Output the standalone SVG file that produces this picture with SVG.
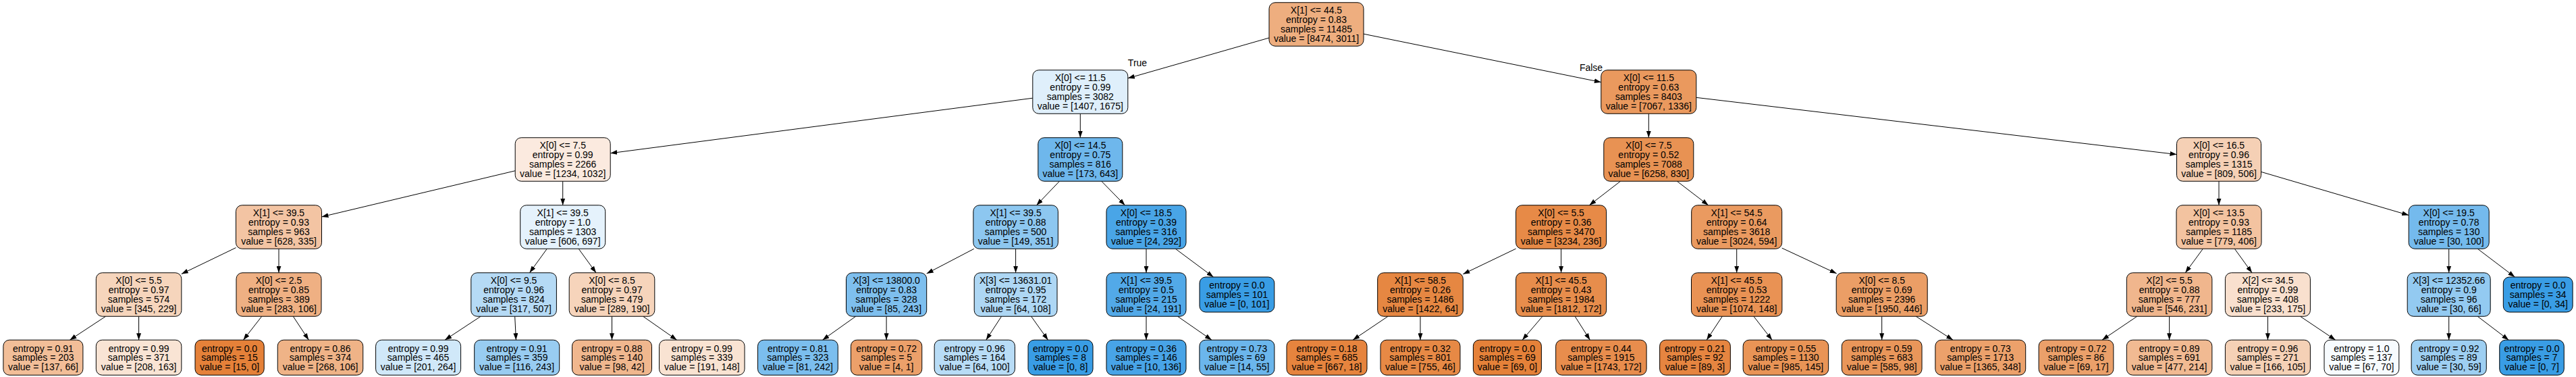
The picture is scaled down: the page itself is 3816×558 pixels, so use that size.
<svg xmlns="http://www.w3.org/2000/svg" width="3816" height="558" viewBox="0 0 3816 558">
<style>
.n rect{stroke:#000;stroke-width:1}
text{font-family:"Liberation Sans",Arial,Helvetica,sans-serif;font-size:14px;text-anchor:middle;fill:#000}
.e path{fill:none;stroke:#000;stroke-width:1;marker-end:url(#ah)}
</style>
<defs>
<marker id="ah" markerWidth="10" markerHeight="7" refX="10" refY="3.5" orient="auto" markerUnits="userSpaceOnUse"><path d="M0,0 L10,3.5 L0,7 z" fill="#000"/></marker>
</defs>
<rect width="3816" height="558" fill="#fff"/>
<g id="edges" class="e">
<path d="M1880,56.02 L1670.8,115.84"/>
<path d="M2020,50.22 L2371.8,121.68"/>
<path d="M1529.8,145.2 L904.2,226.8"/>
<path d="M1600.3,168.25 L1600.3,203.75"/>
<path d="M2442.3,168.25 L2442.3,203.75"/>
<path d="M2512.8,144.35 L3224.5,228.6"/>
<path d="M763.2,252.76 L476.5,320.9"/>
<path d="M833.7,268.25 L833.7,303.75"/>
<path d="M1569.44,268.25 L1535.46,303.75"/>
<path d="M1631.81,268.25 L1666.49,303.75"/>
<path d="M2400.47,268.25 L2354.43,303.75"/>
<path d="M2484.35,268.25 L2530.65,303.75"/>
<path d="M3287,268.25 L3287,303.75"/>
<path d="M3349.5,254.35 L3568.2,318.54"/>
<path d="M349.5,366.62 L268.85,405.5"/>
<path d="M413,368.25 L413,403.75"/>
<path d="M810.29,368.25 L784.51,403.75"/>
<path d="M857.18,368.25 L883.02,403.75"/>
<path d="M1442.84,368.25 L1372.7,404.88"/>
<path d="M1504.6,368.25 L1504.6,403.75"/>
<path d="M1698,368.25 L1698,403.75"/>
<path d="M1741.34,368.25 L1797.46,410"/>
<path d="M2245.6,368.12 L2167.3,405.66"/>
<path d="M2312.6,368.25 L2312.6,403.75"/>
<path d="M2572.7,368.25 L2572.7,403.75"/>
<path d="M2639.7,367.16 L2720.7,404.84"/>
<path d="M3263.33,368.25 L3237.27,403.75"/>
<path d="M3310.35,368.25 L3336.05,403.75"/>
<path d="M3627.7,368.25 L3627.7,403.75"/>
<path d="M3670.27,368.25 L3725.38,410"/>
<path d="M156.57,468.25 L103.43,503.2"/>
<path d="M205.6,468.25 L205.6,503.2"/>
<path d="M387.77,468.25 L360.44,503.2"/>
<path d="M434.28,468.25 L457.34,503.2"/>
<path d="M712.14,468.25 L659.07,503.2"/>
<path d="M762.69,468.25 L764.42,503.2"/>
<path d="M906.5,468.25 L906.5,503.2"/>
<path d="M952.63,468.25 L1002.61,503.2"/>
<path d="M1267.7,468.25 L1218.5,503.2"/>
<path d="M1313.1,468.25 L1313.1,503.2"/>
<path d="M1483.56,468.25 L1460.76,503.2"/>
<path d="M1527.58,468.25 L1552.48,503.2"/>
<path d="M1698,468.25 L1698,503.2"/>
<path d="M1744.51,468.25 L1794.91,503.2"/>
<path d="M2056.07,468.25 L2004.14,503.2"/>
<path d="M2104,468.25 L2104,503.2"/>
<path d="M2285.02,468.25 L2255.13,503.2"/>
<path d="M2333.12,468.25 L2355.36,503.2"/>
<path d="M2551.35,468.25 L2528.21,503.2"/>
<path d="M2597.86,468.25 L2625.12,503.2"/>
<path d="M2787.7,468.25 L2787.7,503.2"/>
<path d="M2838.25,468.25 L2893.04,503.2"/>
<path d="M3165.81,468.25 L3114.03,503.2"/>
<path d="M3213.6,468.25 L3213.6,503.2"/>
<path d="M3359.4,468.25 L3359.4,503.2"/>
<path d="M3407.5,468.25 L3459.62,503.2"/>
<path d="M3627.7,468.25 L3627.7,503.2"/>
<path d="M3670.19,468.25 L3716.24,503.2"/>
<text x="1685" y="98">True</text>
<text x="2357" y="105">False</text>
</g>
<g id="n0" class="n"><rect x="1880" y="3.75" width="140" height="64.5" rx="9" fill="#eeae7f"/><text><tspan x="1950" y="20.45">X[1] &lt;= 44.5</tspan><tspan x="1950" y="34.15">entropy = 0.83</tspan><tspan x="1950" y="47.85">samples = 11485</tspan><tspan x="1950" y="61.55">value = [8474, 3011]</tspan></text></g>
<g id="n1" class="n"><rect x="1529.8" y="103.75" width="141" height="64.5" rx="9" fill="#dfeffb"/><text><tspan x="1600.3" y="120.45">X[0] &lt;= 11.5</tspan><tspan x="1600.3" y="134.15">entropy = 0.99</tspan><tspan x="1600.3" y="147.85">samples = 3082</tspan><tspan x="1600.3" y="161.55">value = [1407, 1675]</tspan></text></g>
<g id="n2" class="n"><rect x="2371.8" y="103.75" width="141" height="64.5" rx="9" fill="#ea995e"/><text><tspan x="2442.3" y="120.45">X[0] &lt;= 11.5</tspan><tspan x="2442.3" y="134.15">entropy = 0.63</tspan><tspan x="2442.3" y="147.85">samples = 8403</tspan><tspan x="2442.3" y="161.55">value = [7067, 1336]</tspan></text></g>
<g id="n3" class="n"><rect x="763.2" y="203.75" width="141" height="64.5" rx="9" fill="#fbeadf"/><text><tspan x="833.7" y="220.45">X[0] &lt;= 7.5</tspan><tspan x="833.7" y="234.15">entropy = 0.99</tspan><tspan x="833.7" y="247.85">samples = 2266</tspan><tspan x="833.7" y="261.55">value = [1234, 1032]</tspan></text></g>
<g id="n4" class="n"><rect x="1537.8" y="203.75" width="125" height="64.5" rx="9" fill="#6eb7ec"/><text><tspan x="1600.3" y="220.45">X[0] &lt;= 14.5</tspan><tspan x="1600.3" y="234.15">entropy = 0.75</tspan><tspan x="1600.3" y="247.85">samples = 816</tspan><tspan x="1600.3" y="261.55">value = [173, 643]</tspan></text></g>
<g id="n5" class="n"><rect x="2375.8" y="203.75" width="133" height="64.5" rx="9" fill="#e89253"/><text><tspan x="2442.3" y="220.45">X[0] &lt;= 7.5</tspan><tspan x="2442.3" y="234.15">entropy = 0.52</tspan><tspan x="2442.3" y="247.85">samples = 7088</tspan><tspan x="2442.3" y="261.55">value = [6258, 830]</tspan></text></g>
<g id="n6" class="n"><rect x="3224.5" y="203.75" width="125" height="64.5" rx="9" fill="#f5d0b5"/><text><tspan x="3287" y="220.45">X[0] &lt;= 16.5</tspan><tspan x="3287" y="234.15">entropy = 0.96</tspan><tspan x="3287" y="247.85">samples = 1315</tspan><tspan x="3287" y="261.55">value = [809, 506]</tspan></text></g>
<g id="n7" class="n"><rect x="349.5" y="303.75" width="127" height="64.5" rx="9" fill="#f3c4a3"/><text><tspan x="413" y="320.45">X[1] &lt;= 39.5</tspan><tspan x="413" y="334.15">entropy = 0.93</tspan><tspan x="413" y="347.85">samples = 963</tspan><tspan x="413" y="361.55">value = [628, 335]</tspan></text></g>
<g id="n8" class="n"><rect x="770.7" y="303.75" width="126" height="64.5" rx="9" fill="#e5f2fc"/><text><tspan x="833.7" y="320.45">X[1] &lt;= 39.5</tspan><tspan x="833.7" y="334.15">entropy = 1.0</tspan><tspan x="833.7" y="347.85">samples = 1303</tspan><tspan x="833.7" y="361.55">value = [606, 697]</tspan></text></g>
<g id="n9" class="n"><rect x="1441.85" y="303.75" width="125.5" height="64.5" rx="9" fill="#8dc7f0"/><text><tspan x="1504.6" y="320.45">X[1] &lt;= 39.5</tspan><tspan x="1504.6" y="334.15">entropy = 0.88</tspan><tspan x="1504.6" y="347.85">samples = 500</tspan><tspan x="1504.6" y="361.55">value = [149, 351]</tspan></text></g>
<g id="n10" class="n"><rect x="1639" y="303.75" width="118" height="64.5" rx="9" fill="#49a5e7"/><text><tspan x="1698" y="320.45">X[0] &lt;= 18.5</tspan><tspan x="1698" y="334.15">entropy = 0.39</tspan><tspan x="1698" y="347.85">samples = 316</tspan><tspan x="1698" y="361.55">value = [24, 292]</tspan></text></g>
<g id="n11" class="n"><rect x="2245.6" y="303.75" width="134" height="64.5" rx="9" fill="#e78a47"/><text><tspan x="2312.6" y="320.45">X[0] &lt;= 5.5</tspan><tspan x="2312.6" y="334.15">entropy = 0.36</tspan><tspan x="2312.6" y="347.85">samples = 3470</tspan><tspan x="2312.6" y="361.55">value = [3234, 236]</tspan></text></g>
<g id="n12" class="n"><rect x="2505.7" y="303.75" width="134" height="64.5" rx="9" fill="#ea9a60"/><text><tspan x="2572.7" y="320.45">X[1] &lt;= 54.5</tspan><tspan x="2572.7" y="334.15">entropy = 0.64</tspan><tspan x="2572.7" y="347.85">samples = 3618</tspan><tspan x="2572.7" y="361.55">value = [3024, 594]</tspan></text></g>
<g id="n13" class="n"><rect x="3224" y="303.75" width="126" height="64.5" rx="9" fill="#f3c3a0"/><text><tspan x="3287" y="320.45">X[0] &lt;= 13.5</tspan><tspan x="3287" y="334.15">entropy = 0.93</tspan><tspan x="3287" y="347.85">samples = 1185</tspan><tspan x="3287" y="361.55">value = [779, 406]</tspan></text></g>
<g id="n14" class="n"><rect x="3568.2" y="303.75" width="119" height="64.5" rx="9" fill="#74baed"/><text><tspan x="3627.7" y="320.45">X[0] &lt;= 19.5</tspan><tspan x="3627.7" y="334.15">entropy = 0.78</tspan><tspan x="3627.7" y="347.85">samples = 130</tspan><tspan x="3627.7" y="361.55">value = [30, 100]</tspan></text></g>
<g id="n15" class="n"><rect x="142.35" y="403.75" width="126.5" height="64.5" rx="9" fill="#f6d5bc"/><text><tspan x="205.6" y="420.45">X[0] &lt;= 5.5</tspan><tspan x="205.6" y="434.15">entropy = 0.97</tspan><tspan x="205.6" y="447.85">samples = 574</tspan><tspan x="205.6" y="461.55">value = [345, 229]</tspan></text></g>
<g id="n16" class="n"><rect x="350" y="403.75" width="126" height="64.5" rx="9" fill="#efb083"/><text><tspan x="413" y="420.45">X[0] &lt;= 2.5</tspan><tspan x="413" y="434.15">entropy = 0.85</tspan><tspan x="413" y="447.85">samples = 389</tspan><tspan x="413" y="461.55">value = [283, 106]</tspan></text></g>
<g id="n17" class="n"><rect x="697.8" y="403.75" width="126.6" height="64.5" rx="9" fill="#b5daf5"/><text><tspan x="761.1" y="420.45">X[0] &lt;= 9.5</tspan><tspan x="761.1" y="434.15">entropy = 0.96</tspan><tspan x="761.1" y="447.85">samples = 824</tspan><tspan x="761.1" y="461.55">value = [317, 507]</tspan></text></g>
<g id="n18" class="n"><rect x="843.2" y="403.75" width="126.6" height="64.5" rx="9" fill="#f6d4bb"/><text><tspan x="906.5" y="420.45">X[0] &lt;= 8.5</tspan><tspan x="906.5" y="434.15">entropy = 0.97</tspan><tspan x="906.5" y="447.85">samples = 479</tspan><tspan x="906.5" y="461.55">value = [289, 190]</tspan></text></g>
<g id="n19" class="n"><rect x="1253.5" y="403.75" width="119.2" height="64.5" rx="9" fill="#7ebfee"/><text><tspan x="1313.1" y="420.45">X[3] &lt;= 13800.0</tspan><tspan x="1313.1" y="434.15">entropy = 0.83</tspan><tspan x="1313.1" y="447.85">samples = 328</tspan><tspan x="1313.1" y="461.55">value = [85, 243]</tspan></text></g>
<g id="n20" class="n"><rect x="1443.2" y="403.75" width="122.8" height="64.5" rx="9" fill="#aed7f4"/><text><tspan x="1504.6" y="420.45">X[3] &lt;= 13631.01</tspan><tspan x="1504.6" y="434.15">entropy = 0.95</tspan><tspan x="1504.6" y="447.85">samples = 172</tspan><tspan x="1504.6" y="461.55">value = [64, 108]</tspan></text></g>
<g id="n21" class="n"><rect x="1639" y="403.75" width="118" height="64.5" rx="9" fill="#52a9e8"/><text><tspan x="1698" y="420.45">X[1] &lt;= 39.5</tspan><tspan x="1698" y="434.15">entropy = 0.5</tspan><tspan x="1698" y="447.85">samples = 215</tspan><tspan x="1698" y="461.55">value = [24, 191]</tspan></text></g>
<g id="n22" class="n"><rect x="1777" y="410" width="110.8" height="52" rx="9" fill="#399de5"/><text><tspan x="1832.4" y="427.3">entropy = 0.0</tspan><tspan x="1832.4" y="441">samples = 101</tspan><tspan x="1832.4" y="454.7">value = [0, 101]</tspan></text></g>
<g id="n23" class="n"><rect x="2040.7" y="403.75" width="126.6" height="64.5" rx="9" fill="#e68742"/><text><tspan x="2104" y="420.45">X[1] &lt;= 58.5</tspan><tspan x="2104" y="434.15">entropy = 0.26</tspan><tspan x="2104" y="447.85">samples = 1486</tspan><tspan x="2104" y="461.55">value = [1422, 64]</tspan></text></g>
<g id="n24" class="n"><rect x="2245.6" y="403.75" width="134" height="64.5" rx="9" fill="#e78d4c"/><text><tspan x="2312.6" y="420.45">X[1] &lt;= 45.5</tspan><tspan x="2312.6" y="434.15">entropy = 0.43</tspan><tspan x="2312.6" y="447.85">samples = 1984</tspan><tspan x="2312.6" y="461.55">value = [1812, 172]</tspan></text></g>
<g id="n25" class="n"><rect x="2505.5" y="403.75" width="134.4" height="64.5" rx="9" fill="#e99254"/><text><tspan x="2572.7" y="420.45">X[1] &lt;= 45.5</tspan><tspan x="2572.7" y="434.15">entropy = 0.53</tspan><tspan x="2572.7" y="447.85">samples = 1222</tspan><tspan x="2572.7" y="461.55">value = [1074, 148]</tspan></text></g>
<g id="n26" class="n"><rect x="2720.2" y="403.75" width="135" height="64.5" rx="9" fill="#eb9e66"/><text><tspan x="2787.7" y="420.45">X[0] &lt;= 8.5</tspan><tspan x="2787.7" y="434.15">entropy = 0.69</tspan><tspan x="2787.7" y="447.85">samples = 2396</tspan><tspan x="2787.7" y="461.55">value = [1950, 446]</tspan></text></g>
<g id="n27" class="n"><rect x="3150.35" y="403.75" width="126.5" height="64.5" rx="9" fill="#f0b68d"/><text><tspan x="3213.6" y="420.45">X[2] &lt;= 5.5</tspan><tspan x="3213.6" y="434.15">entropy = 0.88</tspan><tspan x="3213.6" y="447.85">samples = 777</tspan><tspan x="3213.6" y="461.55">value = [546, 231]</tspan></text></g>
<g id="n28" class="n"><rect x="3296.4" y="403.75" width="126" height="64.5" rx="9" fill="#f9e0ce"/><text><tspan x="3359.4" y="420.45">X[2] &lt;= 34.5</tspan><tspan x="3359.4" y="434.15">entropy = 0.99</tspan><tspan x="3359.4" y="447.85">samples = 408</tspan><tspan x="3359.4" y="461.55">value = [233, 175]</tspan></text></g>
<g id="n29" class="n"><rect x="3566.2" y="403.75" width="123" height="64.5" rx="9" fill="#93caf1"/><text><tspan x="3627.7" y="420.45">X[3] &lt;= 12352.66</tspan><tspan x="3627.7" y="434.15">entropy = 0.9</tspan><tspan x="3627.7" y="447.85">samples = 96</tspan><tspan x="3627.7" y="461.55">value = [30, 66]</tspan></text></g>
<g id="n30" class="n"><rect x="3708.3" y="410" width="102.8" height="52" rx="9" fill="#399de5"/><text><tspan x="3759.7" y="427.3">entropy = 0.0</tspan><tspan x="3759.7" y="441">samples = 34</tspan><tspan x="3759.7" y="454.7">value = [0, 34]</tspan></text></g>
<g id="n31" class="n"><rect x="4.9" y="503.2" width="118" height="52" rx="9" fill="#f2be98"/><text><tspan x="63.9" y="520.5">entropy = 0.91</tspan><tspan x="63.9" y="534.2">samples = 203</tspan><tspan x="63.9" y="547.9">value = [137, 66]</tspan></text></g>
<g id="n32" class="n"><rect x="142.35" y="503.2" width="126.5" height="52" rx="9" fill="#f9e4d4"/><text><tspan x="205.6" y="520.5">entropy = 0.99</tspan><tspan x="205.6" y="534.2">samples = 371</tspan><tspan x="205.6" y="547.9">value = [208, 163]</tspan></text></g>
<g id="n33" class="n"><rect x="289" y="503.2" width="102.2" height="52" rx="9" fill="#e58139"/><text><tspan x="340.1" y="520.5">entropy = 0.0</tspan><tspan x="340.1" y="534.2">samples = 15</tspan><tspan x="340.1" y="547.9">value = [15, 0]</tspan></text></g>
<g id="n34" class="n"><rect x="411.25" y="503.2" width="126.5" height="52" rx="9" fill="#efb387"/><text><tspan x="474.5" y="520.5">entropy = 0.86</tspan><tspan x="474.5" y="534.2">samples = 374</tspan><tspan x="474.5" y="547.9">value = [268, 106]</tspan></text></g>
<g id="n35" class="n"><rect x="556.6" y="503.2" width="126" height="52" rx="9" fill="#d0e8f9"/><text><tspan x="619.6" y="520.5">entropy = 0.99</tspan><tspan x="619.6" y="534.2">samples = 465</tspan><tspan x="619.6" y="547.9">value = [201, 264]</tspan></text></g>
<g id="n36" class="n"><rect x="702.7" y="503.2" width="126" height="52" rx="9" fill="#98ccf1"/><text><tspan x="765.7" y="520.5">entropy = 0.91</tspan><tspan x="765.7" y="534.2">samples = 359</tspan><tspan x="765.7" y="547.9">value = [116, 243]</tspan></text></g>
<g id="n37" class="n"><rect x="847.5" y="503.2" width="118" height="52" rx="9" fill="#f0b78e"/><text><tspan x="906.5" y="520.5">entropy = 0.88</tspan><tspan x="906.5" y="534.2">samples = 140</tspan><tspan x="906.5" y="547.9">value = [98, 42]</tspan></text></g>
<g id="n38" class="n"><rect x="976.55" y="503.2" width="126.5" height="52" rx="9" fill="#f9e3d2"/><text><tspan x="1039.8" y="520.5">entropy = 0.99</tspan><tspan x="1039.8" y="534.2">samples = 339</tspan><tspan x="1039.8" y="547.9">value = [191, 148]</tspan></text></g>
<g id="n39" class="n"><rect x="1122.55" y="503.2" width="118.7" height="52" rx="9" fill="#7bbeee"/><text><tspan x="1181.9" y="520.5">entropy = 0.81</tspan><tspan x="1181.9" y="534.2">samples = 323</tspan><tspan x="1181.9" y="547.9">value = [81, 242]</tspan></text></g>
<g id="n40" class="n"><rect x="1260.45" y="503.2" width="105.3" height="52" rx="9" fill="#eca06a"/><text><tspan x="1313.1" y="520.5">entropy = 0.72</tspan><tspan x="1313.1" y="534.2">samples = 5</tspan><tspan x="1313.1" y="547.9">value = [4, 1]</tspan></text></g>
<g id="n41" class="n"><rect x="1384.15" y="503.2" width="119.3" height="52" rx="9" fill="#b8dcf6"/><text><tspan x="1443.8" y="520.5">entropy = 0.96</tspan><tspan x="1443.8" y="534.2">samples = 164</tspan><tspan x="1443.8" y="547.9">value = [64, 100]</tspan></text></g>
<g id="n42" class="n"><rect x="1523" y="503.2" width="96" height="52" rx="9" fill="#399de5"/><text><tspan x="1571" y="520.5">entropy = 0.0</tspan><tspan x="1571" y="534.2">samples = 8</tspan><tspan x="1571" y="547.9">value = [0, 8]</tspan></text></g>
<g id="n43" class="n"><rect x="1639" y="503.2" width="118" height="52" rx="9" fill="#48a4e7"/><text><tspan x="1698" y="520.5">entropy = 0.36</tspan><tspan x="1698" y="534.2">samples = 146</tspan><tspan x="1698" y="547.9">value = [10, 136]</tspan></text></g>
<g id="n44" class="n"><rect x="1776.9" y="503.2" width="111" height="52" rx="9" fill="#6bb6ec"/><text><tspan x="1832.4" y="520.5">entropy = 0.73</tspan><tspan x="1832.4" y="534.2">samples = 69</tspan><tspan x="1832.4" y="547.9">value = [14, 55]</tspan></text></g>
<g id="n45" class="n"><rect x="1906" y="503.2" width="119" height="52" rx="9" fill="#e6843e"/><text><tspan x="1965.5" y="520.5">entropy = 0.18</tspan><tspan x="1965.5" y="534.2">samples = 685</tspan><tspan x="1965.5" y="547.9">value = [667, 18]</tspan></text></g>
<g id="n46" class="n"><rect x="2045" y="503.2" width="118" height="52" rx="9" fill="#e78945"/><text><tspan x="2104" y="520.5">entropy = 0.32</tspan><tspan x="2104" y="534.2">samples = 801</tspan><tspan x="2104" y="547.9">value = [755, 46]</tspan></text></g>
<g id="n47" class="n"><rect x="2182.4" y="503.2" width="101" height="52" rx="9" fill="#e58139"/><text><tspan x="2232.9" y="520.5">entropy = 0.0</tspan><tspan x="2232.9" y="534.2">samples = 69</tspan><tspan x="2232.9" y="547.9">value = [69, 0]</tspan></text></g>
<g id="n48" class="n"><rect x="2304.7" y="503.2" width="134.4" height="52" rx="9" fill="#e88d4d"/><text><tspan x="2371.9" y="520.5">entropy = 0.44</tspan><tspan x="2371.9" y="534.2">samples = 1915</tspan><tspan x="2371.9" y="547.9">value = [1743, 172]</tspan></text></g>
<g id="n49" class="n"><rect x="2458.65" y="503.2" width="104.7" height="52" rx="9" fill="#e68540"/><text><tspan x="2511" y="520.5">entropy = 0.21</tspan><tspan x="2511" y="534.2">samples = 92</tspan><tspan x="2511" y="547.9">value = [89, 3]</tspan></text></g>
<g id="n50" class="n"><rect x="2582.15" y="503.2" width="126.5" height="52" rx="9" fill="#e99456"/><text><tspan x="2645.4" y="520.5">entropy = 0.55</tspan><tspan x="2645.4" y="534.2">samples = 1130</tspan><tspan x="2645.4" y="547.9">value = [985, 145]</tspan></text></g>
<g id="n51" class="n"><rect x="2728.35" y="503.2" width="118.7" height="52" rx="9" fill="#e9965a"/><text><tspan x="2787.7" y="520.5">entropy = 0.59</tspan><tspan x="2787.7" y="534.2">samples = 683</tspan><tspan x="2787.7" y="547.9">value = [585, 98]</tspan></text></g>
<g id="n52" class="n"><rect x="2866.9" y="503.2" width="133.8" height="52" rx="9" fill="#eca16b"/><text><tspan x="2933.8" y="520.5">entropy = 0.73</tspan><tspan x="2933.8" y="534.2">samples = 1713</tspan><tspan x="2933.8" y="547.9">value = [1365, 348]</tspan></text></g>
<g id="n53" class="n"><rect x="3020.15" y="503.2" width="110.7" height="52" rx="9" fill="#eba06a"/><text><tspan x="3075.5" y="520.5">entropy = 0.72</tspan><tspan x="3075.5" y="534.2">samples = 86</tspan><tspan x="3075.5" y="547.9">value = [69, 17]</tspan></text></g>
<g id="n54" class="n"><rect x="3150.35" y="503.2" width="126.5" height="52" rx="9" fill="#f1ba92"/><text><tspan x="3213.6" y="520.5">entropy = 0.89</tspan><tspan x="3213.6" y="534.2">samples = 691</tspan><tspan x="3213.6" y="547.9">value = [477, 214]</tspan></text></g>
<g id="n55" class="n"><rect x="3296.4" y="503.2" width="126" height="52" rx="9" fill="#f5d1b6"/><text><tspan x="3359.4" y="520.5">entropy = 0.96</tspan><tspan x="3359.4" y="534.2">samples = 271</tspan><tspan x="3359.4" y="547.9">value = [166, 105]</tspan></text></g>
<g id="n56" class="n"><rect x="3443" y="503.2" width="110.8" height="52" rx="9" fill="#f7fbfe"/><text><tspan x="3498.4" y="520.5">entropy = 1.0</tspan><tspan x="3498.4" y="534.2">samples = 137</tspan><tspan x="3498.4" y="547.9">value = [67, 70]</tspan></text></g>
<g id="n57" class="n"><rect x="3572.15" y="503.2" width="111.1" height="52" rx="9" fill="#9ecff2"/><text><tspan x="3627.7" y="520.5">entropy = 0.92</tspan><tspan x="3627.7" y="534.2">samples = 89</tspan><tspan x="3627.7" y="547.9">value = [30, 59]</tspan></text></g>
<g id="n58" class="n"><rect x="3702.75" y="503.2" width="95.5" height="52" rx="9" fill="#399de5"/><text><tspan x="3750.5" y="520.5">entropy = 0.0</tspan><tspan x="3750.5" y="534.2">samples = 7</tspan><tspan x="3750.5" y="547.9">value = [0, 7]</tspan></text></g>
</svg>
